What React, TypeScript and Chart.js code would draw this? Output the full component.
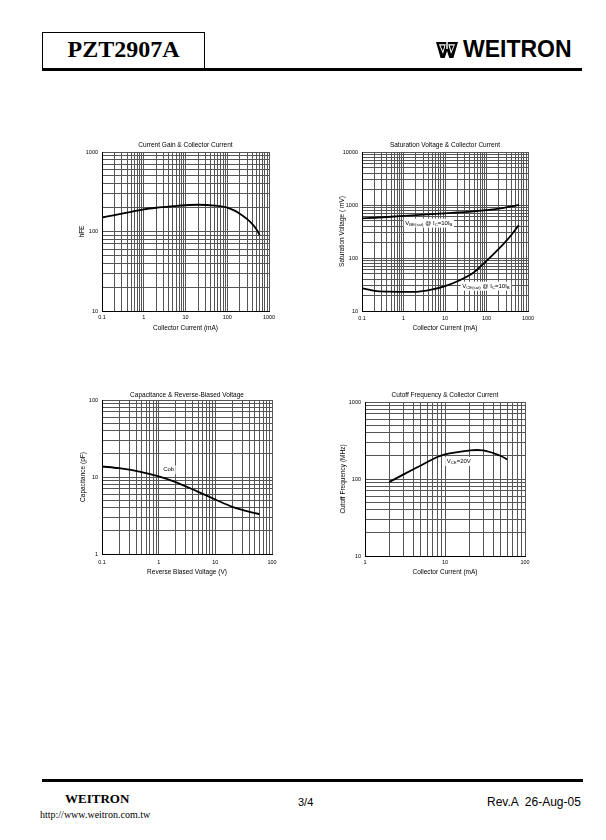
import React, { useEffect, useRef } from "react";
import { Chart, registerables } from "chart.js";

Chart.register(...registerables);

const FONT = "'Liberation Sans', Arial, Helvetica, sans-serif";
const SERIF = "'Liberation Serif', 'Times New Roman', Times, serif";
const GRID = "#555555";

// ---------- Current Gain & Collector Current ----------
const gainIc = [0.1, 0.2, 0.5, 1, 2, 5, 10, 20, 50, 100, 150, 200, 300, 400, 500, 600];
const gainHfe = [150, 161, 177, 190, 199, 208, 214, 217, 212, 200, 183, 167, 143, 124, 107, 90];
const gainXTicks = [0.1, 1, 10, 100, 1000];
const gainYTicks = [10, 100, 1000];

// ---------- Saturation Voltage & Collector Current ----------
const satIc = [0.1, 0.2, 0.5, 1, 2, 5, 10, 20, 50, 100, 200, 300, 400, 500, 600];
const satVbe = [560, 575, 600, 622, 645, 672, 698, 722, 760, 800, 855, 900, 940, 975, 1000];
const satVce = [27, 24, 23.2, 23, 23, 25.5, 29.5, 36.5, 54, 88, 150, 210, 275, 345, 420];
const satXTicks = [0.1, 1, 10, 100, 1000];
const satYTicks = [10, 100, 1000, 10000];

// ---------- Capacitance & Reverse-Biased Voltage ----------
const capVr = [0.1, 0.2, 0.5, 1, 2, 5, 10, 20, 50, 60];
const capCob = [13.7, 13.0, 11.6, 10.2, 8.6, 6.4, 5.1, 4.1, 3.4, 3.3];
const capXTicks = [0.1, 1, 10, 100];
const capYTicks = [1, 10, 100];

// ---------- Cutoff Frequency & Collector Current ----------
const ftIc = [2, 3, 5, 8, 10, 15, 20, 25, 30, 40, 50, 60];
const ftMhz = [91, 114, 150, 193, 209, 225, 234, 238, 236, 217, 199, 180];
const ftXTicks = [1, 10, 100];
const ftYTicks = [10, 100, 1000];

type Seg = [string, boolean];
interface Ann { x: number; y: number; segs: Seg[] }
interface Box { l: number; t: number; r: number; b: number }
interface Spec {
  title: string;
  xTitle: string;
  yTitle: string;
  xTicks: number[];
  yTicks: number[];
  series: { xs: number[]; ys: number[] }[];
  anns: Ann[];
  box: Box;
  titleY: number;
  yTitleX: number;
  xTickY: number;
  xTitleY: number;
}

const CHARTS: Spec[] = [
  {
    title: "Current Gain & Collector Current",
    xTitle: "Collector Current (mA)",
    yTitle: "hFE",
    xTicks: gainXTicks,
    yTicks: gainYTicks,
    series: [{ xs: gainIc, ys: gainHfe }],
    anns: [],
    box: { l: 102, t: 152, r: 269, b: 311 },
    titleY: 145,
    yTitleX: 82,
    xTickY: 317,
    xTitleY: 328,
  },
  {
    title: "Saturation Voltage & Collector Current",
    xTitle: "Collector Current (mA)",
    yTitle: "Saturation Voltage ( mV)",
    xTicks: satXTicks,
    yTicks: satYTicks,
    series: [
      { xs: satIc, ys: satVbe },
      { xs: satIc, ys: satVce },
    ],
    anns: [
      { x: 1.1, y: 455, segs: [["V", false], ["BE(sat)", true], [" @ I", false], ["C", true], ["=10I", false], ["B", true]] },
      { x: 26, y: 29.4, segs: [["V", false], ["CE(sat)", true], [" @ I", false], ["C", true], ["=10I", false], ["B", true]] },
    ],
    box: { l: 362, t: 152, r: 528, b: 311 },
    titleY: 145.5,
    yTitleX: 342,
    xTickY: 318,
    xTitleY: 328,
  },
  {
    title: "Capacitance & Reverse-Biased Voltage",
    xTitle: "Reverse Biased Voltage (V)",
    yTitle: "Capacitance (pF)",
    xTicks: capXTicks,
    yTicks: capYTicks,
    series: [{ xs: capVr, ys: capCob }],
    anns: [{ x: 1.2, y: 12.4, segs: [["Cob", false]] }],
    box: { l: 102, t: 400, r: 272, b: 554 },
    titleY: 395,
    yTitleX: 83,
    xTickY: 562,
    xTitleY: 572,
  },
  {
    title: "Cutoff Frequency & Collector Current",
    xTitle: "Collector Current (mA)",
    yTitle: "Cutoff Frequency (MHz)",
    xTicks: ftXTicks,
    yTicks: ftYTicks,
    series: [{ xs: ftIc, ys: ftMhz }],
    anns: [{ x: 10.5, y: 169, segs: [["V", false], ["CE", true], ["=20V", false]] }],
    box: { l: 365, t: 402, r: 525, b: 556 },
    titleY: 395.5,
    yTitleX: 343,
    xTickY: 562,
    xTitleY: 572,
  },
];

function gridValues(decades: number[]): number[] {
  const out: number[] = [];
  for (let i = 0; i < decades.length - 1; i++) {
    for (let k = 1; k < 10; k++) out.push(decades[i] * k);
  }
  out.push(decades[decades.length - 1]);
  return out;
}

function fmt(v: number, ticks: number[]): string {
  const hit = ticks.find((t) => Math.abs(v - t) / t < 1e-6);
  return hit === undefined ? "" : String(hit);
}

const AX_L = 34;
const AX_T = 14;
const AX_B = 22;
const AX_R = 12;
const TITLE_SIZE = 6.5;
const TICK_SIZE = 5.5;

function LogChart({ spec }: { spec: Spec }) {
  const ref = useRef<HTMLCanvasElement | null>(null);
  const { box } = spec;
  const w = AX_L + (box.r - box.l) + AX_R;
  const h = AX_T + (box.b - box.t) + AX_B;
  const left = box.l - AX_L;
  const top = box.t - AX_T;

  useEffect(() => {
    if (!ref.current) return;
    const lhT = TITLE_SIZE * 1.2;
    const lhK = TICK_SIZE * 1.2;
    const titleTop = spec.titleY - top - lhT / 2;
    const titleBottom = AX_T - titleTop - lhT;
    const yTitlePad = spec.yTitleX - left - lhT / 2;
    const xTitlePad = box.b + AX_B - spec.xTitleY - lhT / 2;
    const xTickPad = spec.xTickY - box.b - lhK / 2;
    const xGrid = gridValues(spec.xTicks);
    const yGrid = gridValues(spec.yTicks);
    const tickFont = { family: FONT, size: TICK_SIZE };
    const titleFont = { family: FONT, size: TITLE_SIZE, weight: "normal" as const };

    const annPlugin = {
      id: "annText",
      afterDatasetsDraw(chart: any) {
        const ctx: CanvasRenderingContext2D = chart.ctx;
        const xs = chart.scales.x;
        const ys = chart.scales.y;
        spec.anns.forEach((a) => {
          const px = xs.getPixelForValue(a.x);
          const py = ys.getPixelForValue(a.y);
          ctx.save();
          const parts = a.segs.map(([t, sub]) => {
            ctx.font = `${sub ? 4.3 : 6}px ${FONT}`;
            return { t, sub, w: ctx.measureText(t).width };
          });
          const total = parts.reduce((s, p) => s + p.w, 0);
          ctx.fillStyle = "#ffffff";
          ctx.fillRect(px - 1.5, py - 4.5, total + 3, 9);
          ctx.fillStyle = "#000000";
          ctx.textBaseline = "middle";
          ctx.textAlign = "left";
          let cx = px;
          parts.forEach((p) => {
            ctx.font = `${p.sub ? 4.3 : 6}px ${FONT}`;
            ctx.fillText(p.t, cx, p.sub ? py + 1.3 : py);
            cx += p.w;
          });
          ctx.restore();
        });
      },
    };

    const chart = new Chart(ref.current, {
      type: "line",
      data: {
        datasets: spec.series.map((s) => ({
          data: s.xs.map((x, i) => ({ x, y: s.ys[i] })),
          borderColor: "#000000",
          borderWidth: 1.8,
          pointRadius: 0,
          fill: false,
          cubicInterpolationMode: "monotone" as const,
        })),
      },
      options: {
        animation: false,
        responsive: false,
        maintainAspectRatio: false,
        events: [],
        layout: { padding: { left: 0, right: AX_R, top: 0, bottom: 0 } },
        plugins: {
          legend: { display: false },
          tooltip: { enabled: false },
          title: {
            display: true,
            text: spec.title,
            fullSize: false,
            color: "#000000",
            font: titleFont,
            padding: { top: titleTop, bottom: titleBottom },
          },
        },
        scales: {
          x: {
            type: "logarithmic",
            min: spec.xTicks[0],
            max: spec.xTicks[spec.xTicks.length - 1],
            afterBuildTicks: (scale: any) => {
              scale.ticks = xGrid.map((v) => ({ value: v, major: false }));
            },
            afterFit: (scale: any) => {
              scale.height = AX_B;
            },
            grid: { color: GRID, lineWidth: 1, drawTicks: false },
            border: { display: true, color: "#000000", width: 1 },
            ticks: {
              autoSkip: false,
              maxRotation: 0,
              minRotation: 0,
              padding: xTickPad,
              color: "#000000",
              font: tickFont,
              callback: (v: any) => fmt(Number(v), spec.xTicks),
            },
            title: {
              display: true,
              text: spec.xTitle,
              color: "#000000",
              font: titleFont,
              padding: { top: 0, bottom: xTitlePad },
            },
          },
          y: {
            type: "logarithmic",
            min: spec.yTicks[0],
            max: spec.yTicks[spec.yTicks.length - 1],
            afterBuildTicks: (scale: any) => {
              scale.ticks = yGrid.map((v) => ({ value: v, major: false }));
            },
            afterFit: (scale: any) => {
              scale.width = AX_L;
            },
            grid: { color: GRID, lineWidth: 1, drawTicks: false },
            border: { display: true, color: "#000000", width: 1 },
            ticks: {
              autoSkip: false,
              padding: 4,
              color: "#000000",
              font: tickFont,
              callback: (v: any) => fmt(Number(v), spec.yTicks),
            },
            title: {
              display: true,
              text: spec.yTitle,
              color: "#000000",
              font: titleFont,
              padding: { top: yTitlePad, bottom: 0 },
            },
          },
        },
      } as any,
      plugins: [annPlugin],
    });
    return () => chart.destroy();
  }, []);

  return (
    <canvas
      ref={ref}
      width={w}
      height={h}
      style={{ position: "absolute", left, top, width: w, height: h }}
    />
  );
}

function Logo() {
  return (
    <svg width={22} height={16} viewBox="0 0 24 16" preserveAspectRatio="none" style={{ position: "absolute", left: 436, top: 41.5 }}>
      <path d="M0 0 H24 L19 16 H14.5 L12 9 L9.5 16 H5 Z" fill="#000" />
      <path d="M3.2 2.2 H10.6 L7.6 12 Z" fill="#fff" />
      <path d="M13.4 2.2 H20.8 L16.4 12 Z" fill="#fff" />
      <path d="M4.8 3.4 H9.2 L7.5 9 Z" fill="#000" />
      <path d="M15 3.4 H19.3 L16.6 9 Z" fill="#000" />
      <rect x={11.2} y={0} width={1.6} height={7} fill="#fff" />
    </svg>
  );
}

export default function App() {
  return (
    <div
      style={{
        position: "absolute",
        left: 0,
        top: 0,
        width: 606,
        height: 840,
        background: "#ffffff",
        overflow: "hidden",
        color: "#000",
      }}
    >
      {/* header */}
      <div
        style={{
          position: "absolute",
          left: 42,
          top: 32,
          width: 161,
          height: 37,
          borderLeft: "1px solid #000",
          borderTop: "1px solid #000",
          borderRight: "1px solid #000",
        }}
      />
      <div
        style={{
          position: "absolute",
          left: 42,
          top: 37,
          width: 163,
          textAlign: "center",
          fontFamily: SERIF,
          fontWeight: "bold",
          fontSize: 24,
          lineHeight: "24px",
          whiteSpace: "nowrap",
        }}
      >
        PZT2907A
      </div>
      <Logo />
      <div
        style={{
          position: "absolute",
          left: 463,
          top: 38,
          fontFamily: FONT,
          fontWeight: "bold",
          fontSize: 23,
          lineHeight: "23px",
          whiteSpace: "nowrap",
        }}
      >
        WEITRON
      </div>
      <div style={{ position: "absolute", left: 42, top: 68, width: 540, height: 3, background: "#000" }} />

      {CHARTS.map((c, i) => (
        <LogChart key={i} spec={c} />
      ))}

      {/* footer */}
      <div style={{ position: "absolute", left: 42, top: 779, width: 541, height: 3, background: "#000" }} />
      <div
        style={{
          position: "absolute",
          left: 65,
          top: 791.5,
          fontFamily: SERIF,
          fontWeight: "bold",
          fontSize: 13,
          lineHeight: "13px",
          whiteSpace: "nowrap",
        }}
      >
        WEITRON
      </div>
      <div
        style={{
          position: "absolute",
          left: 40,
          top: 809.5,
          fontFamily: SERIF,
          fontSize: 10,
          lineHeight: "10px",
          whiteSpace: "nowrap",
        }}
      >
        http://www.weitron.com.tw
      </div>
      <div
        style={{
          position: "absolute",
          left: 298,
          top: 796.5,
          fontFamily: FONT,
          fontSize: 11,
          lineHeight: "11px",
          whiteSpace: "nowrap",
        }}
      >
        3/4
      </div>
      <div
        style={{
          position: "absolute",
          left: 487,
          top: 796,
          fontFamily: FONT,
          fontSize: 12,
          lineHeight: "12px",
          whiteSpace: "pre",
        }}
      >
        {"Rev.A  26-Aug-05"}
      </div>
    </div>
  );
}
